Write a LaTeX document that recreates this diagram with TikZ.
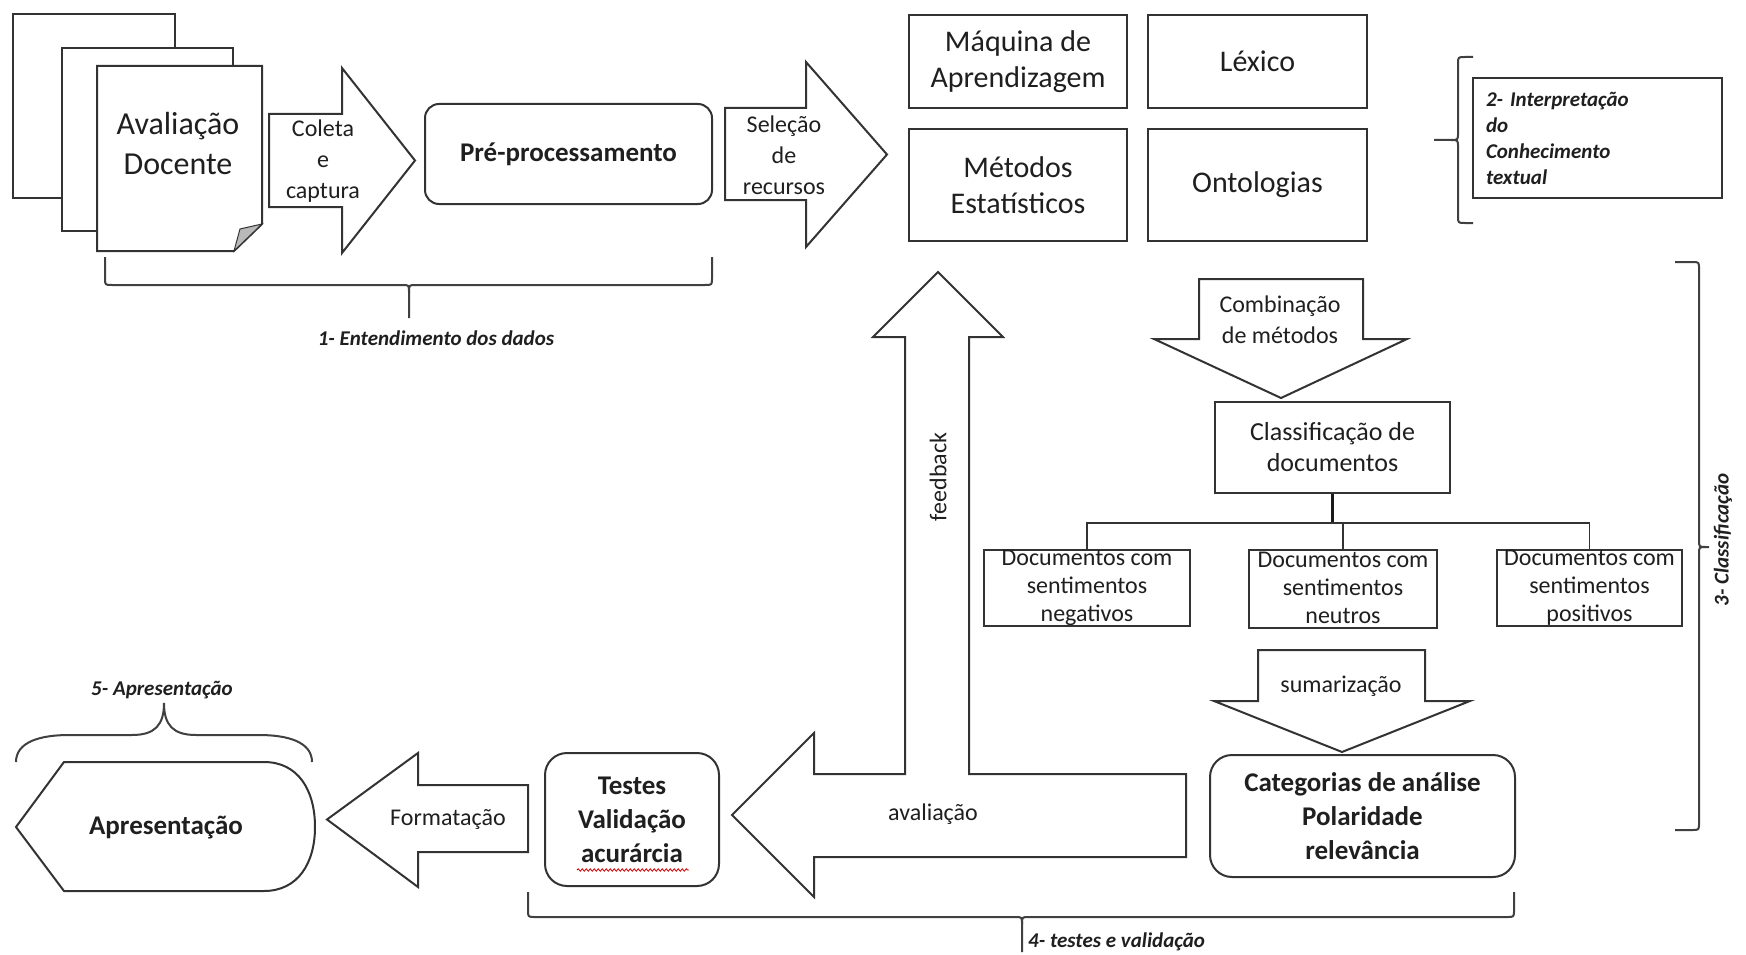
\documentclass[tikz,border=0pt]{standalone}
\usepackage{fontspec}
\setmainfont{Carlito}
\usetikzlibrary{decorations.pathmorphing}
\begin{document}
\begin{tikzpicture}[x=1pt,y=-1pt,
  ln/.style={draw=black!80, line width=2pt, line join=miter},
  shp/.style={ln, fill=white},
  box/.style={ln, fill=white, inner sep=0pt, align=center, text=black!88},
  brc/.style={draw=black!75, line width=2pt},
  tree/.style={draw=black!80, line width=1.6pt},
  txt/.style={inner sep=0pt, align=center, text=black!88},
  fdoc/.style={font=\fontsize{32}{40}\selectfont},
  farr/.style={font=\fontsize{24}{31}\selectfont},
  fbox/.style={font=\fontsize{30}{36}\selectfont},
  fbold/.style={font=\fontsize{27}{34}\selectfont\bfseries},
  fcls/.style={font=\fontsize{26}{31}\selectfont},
  fsub/.style={font=\fontsize{24}{28}\selectfont},
  flab/.style={font=\fontsize{21}{26}\selectfont\bfseries\itshape},
]
\useasboundingbox (0,0) rectangle (1746,955);
\fill[white] (0,0) rectangle (1746,955);

% ---------- documents ----------
\draw[shp] (13,14) rectangle (175,198);
\draw[shp] (62,48) rectangle (233,231);
\draw[shp] (97,66) -- (262,66) -- (262,224) -- (234,251) -- (97,251) -- cycle;
\fill[gray!55, draw=black!80, line width=1pt] (262,224) -- (240,229) -- (234,251) -- cycle;
\node[txt, fdoc] (ava) at (178,144) {Avaliação\\Docente};

% ---------- Coleta arrow ----------
\draw[shp] (269,114) -- (342,114) -- (342,68) -- (415,160.5) -- (342,253) -- (342,207) -- (269,207) -- cycle;
\node[txt, farr] (col) at (323,161) {Coleta\\e\\captura};

% ---------- Pre-processamento ----------
\node[box, fbold, rounded corners=14, minimum width=287, minimum height=100] (pre) at (568.5,154) {Pré-processamento};

% ---------- Selecao arrow ----------
\draw[shp] (725,108) -- (806,108) -- (806,62) -- (887,154.5) -- (806,247) -- (806,200) -- (725,200) -- cycle;
\node[txt, farr] (sel) at (784,155) {Seleção\\de\\recursos};

% ---------- resource boxes ----------
\node[box, fbox, minimum width=218, minimum height=93] (maq) at (1018,61.5) {Máquina de\\Aprendizagem};
\node[box, fbox, minimum width=219, minimum height=93] (lex) at (1257.5,61.5) {Léxico};
\node[box, fbox, minimum width=218, minimum height=112] (met) at (1018,185) {Métodos\\Estatísticos};
\node[box, fbox, minimum width=219, minimum height=112] (ont) at (1257.5,185) {Ontologias};

% ---------- box 2 ----------
\node[box, flab, minimum width=249, minimum height=120, text width=223, align=left] (int) at (1597.5,138) {2- Interpretação\\do\\Conhecimento\\textual};

% ---------- Combinacao arrow ----------
\draw[shp] (1199,279) -- (1363,279) -- (1363,339) -- (1407,339) -- (1281,398) -- (1154,339) -- (1199,339) -- cycle;
\node[txt, farr] (comb) at (1280,320) {Combinação\\de métodos};

% ---------- Classificacao ----------
\node[box, fcls, minimum width=235, minimum height=91] (cls) at (1332.5,447.5) {Classificação de\\documentos};

\node[box, minimum width=206, minimum height=76] (neg) at (1087,588) {};
\node[box, minimum width=188, minimum height=78] (neu) at (1343,589) {};
\node[box, minimum width=185, minimum height=76] (pos) at (1589.5,588) {};
\node[txt, fsub] (negt) at (neg.center) {Documentos com\\sentimentos\\negativos};
\node[txt, fsub] (neut) at (1343,588) {Documentos com\\sentimentos\\neutros};
\node[txt, fsub] (post) at (pos.center) {Documentos com\\sentimentos\\positivos};

\coordinate (bar) at (1332.5,523);
\draw[draw=black!90, line width=3pt] (cls.south) -- (bar);
\draw[tree] (neg.north) |- (bar) -| (pos.north);
\draw[tree] (neu.north) -- (neu.north |- bar);

% ---------- sumarizacao arrow ----------
\draw[shp] (1258,650) -- (1425,650) -- (1425,701) -- (1470,701) -- (1342,752) -- (1214,701) -- (1258,701) -- cycle;
\node[txt, farr] (sum) at (1341,686) {sumarização};

% ---------- Categorias ----------
\node[box, fbold, rounded corners=22, minimum width=305, minimum height=122] (cat) at (1362.5,816) {Categorias de análise\\Polaridade\\relevância};

% ---------- avaliacao / feedback arrow ----------
\draw[shp] (1186,774) -- (969,774) -- (969,337) -- (1003,337) -- (938,272) -- (873,337) -- (905,337) -- (905,774)
  -- (814,774) -- (814,733) -- (732,815) -- (814,897) -- (814,857) -- (1186,857) -- cycle;
\node[txt, farr] (aval) at (933,814) {avaliação};
\node[txt, farr, rotate=90] (feed) at (938,477) {feedback};

% ---------- Testes ----------
\node[box, fbold, rounded corners=22, minimum width=174, minimum height=133] (tst) at (632,819.5) {Testes\\Validação\\acurárcia};
\draw[red!80!black, line width=0.8pt, decorate, decoration={snake, amplitude=1.2pt, segment length=4pt}] (577,870) -- (689,870);

% ---------- Formatacao arrow ----------
\draw[shp] (528,785) -- (418,785) -- (418,753) -- (327,819.5) -- (418,887) -- (418,852) -- (528,852) -- cycle;
\node[txt, farr] (fmt) at (448,819) {Formatação};

% ---------- Apresentacao ----------
\draw[shp] (64,762) -- (264,762) .. controls (298,762) and (315,790) .. (315,827) .. controls (315,863) and (298,891) .. (264,891) -- (64,891) -- (16,827) -- cycle;
\node[txt, fbold] (apr) at (166,828) {Apresentação};

% ---------- braces ----------
% 1
\draw[brc] (105,257) -- (105,278) .. controls (105,285) .. (112,285) -- (402,285) .. controls (409,285) .. (409,292) -- (409,318);
\draw[brc] (712,257) -- (712,278) .. controls (712,285) .. (705,285) -- (416,285) .. controls (409,285) .. (409,292);
\node[txt, flab] (l1) at (436,338) {1- Entendimento dos dados};
% 2
\draw[brc] (1473,57) -- (1465,57) .. controls (1458,57) .. (1458,64) -- (1458,133) .. controls (1458,140) .. (1451,140) -- (1434,140);
\draw[brc] (1473,223) -- (1465,223) .. controls (1458,223) .. (1458,216) -- (1458,147) .. controls (1458,140) .. (1451,140);
% 3
\draw[brc] (1675,262) -- (1692,262) .. controls (1699,262) .. (1699,269) -- (1699,540) .. controls (1699,547) .. (1706,547) -- (1709,547);
\draw[brc] (1675,830) -- (1692,830) .. controls (1699,830) .. (1699,823) -- (1699,554) .. controls (1699,547) .. (1706,547);
\node[txt, flab, rotate=90] (l3) at (1723,540) {3- Classificação};
% 4
\draw[brc] (528,892) -- (528,910) .. controls (528,917) .. (535,917) -- (1015,917) .. controls (1022,917) .. (1022,924) -- (1022,952);
\draw[brc] (1514,892) -- (1514,910) .. controls (1514,917) .. (1507,917) -- (1029,917) .. controls (1022,917) .. (1022,924);
\node[txt, flab, anchor=west] (l4) at (1028,942) {4- testes e validação};
% 5
\draw[brc] (16,762) .. controls (16,742) and (40,735) .. (69,735) -- (132,735) .. controls (155,735) and (164,725) .. (164,703);
\draw[brc] (312,762) .. controls (312,742) and (288,735) .. (259,735) -- (196,735) .. controls (173,735) and (164,725) .. (164,703);
\node[txt, flab] (l5) at (162,690) {5- Apresentação};
\end{tikzpicture}
\end{document}
